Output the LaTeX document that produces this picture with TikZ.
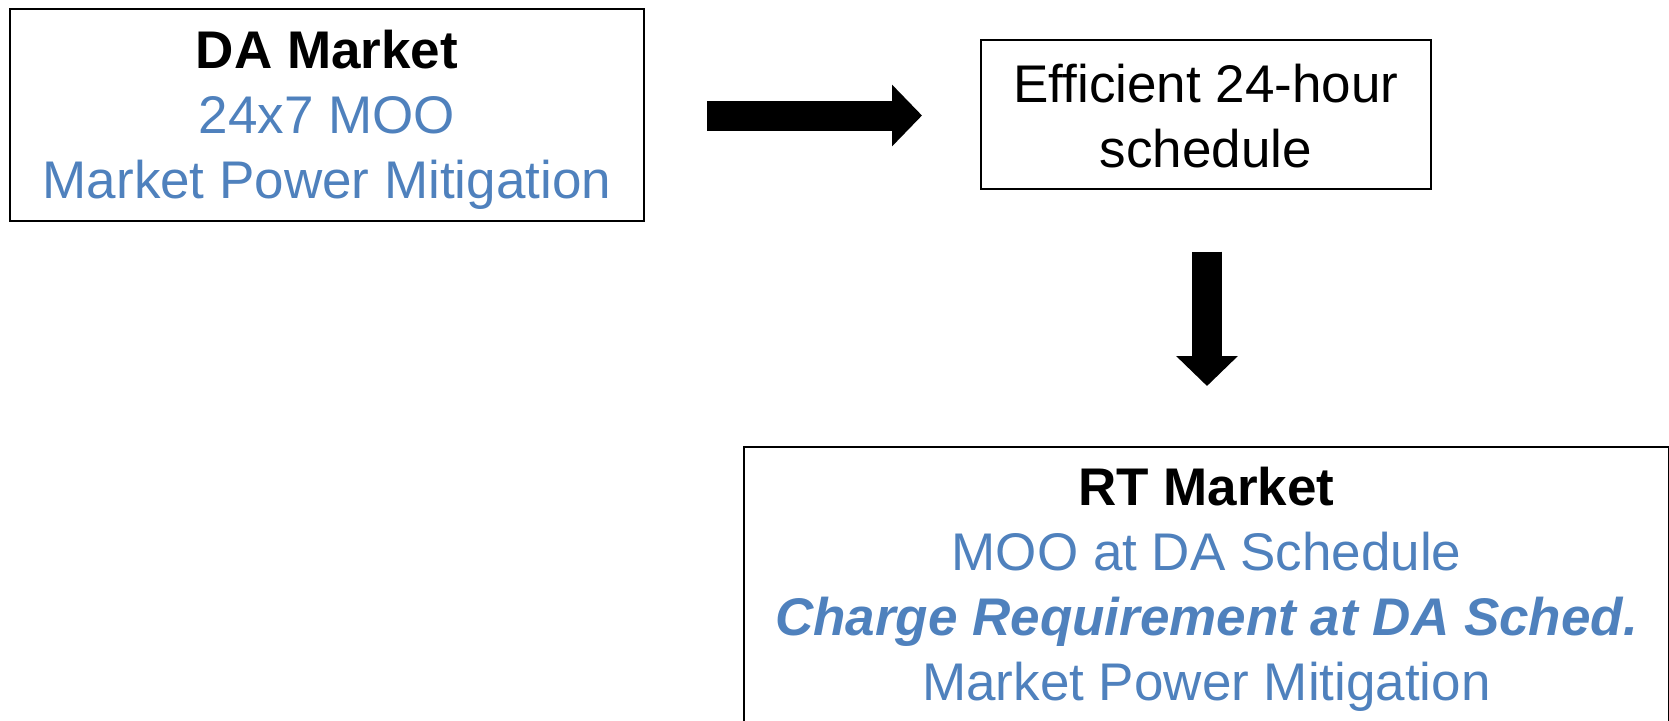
\documentclass[tikz,border=0pt]{standalone}
\usepackage{fontspec}
\setmainfont{Liberation Sans}
\usetikzlibrary{arrows.meta}
\definecolor{txtblue}{HTML}{4F81BD}
\tikzset{
  box/.style={draw=black, line width=1pt, inner sep=0pt},
  boxtext/.style={inner sep=0pt, align=center,
    font=\fontsize{26.5pt}{32.5pt}\selectfont},
  blockarrow/.style={line width=15pt, draw=black,
    -{Triangle[width=30pt,length=15pt]}},
}
\begin{document}
\begin{tikzpicture}[x=0.5pt,y=-0.5pt]
\useasboundingbox (0,0) rectangle (1669,720);
\clip (0,0) rectangle (1669,720);
\node[box, minimum width=317pt, minimum height=106pt] (da) at (327,115) {};
\node[boxtext] (datext) at ([yshift=-2.5pt]da.center)
  {\textbf{DA Market}\\ \textcolor{txtblue}{24x7 MOO}\\ \textcolor{txtblue}{Market Power Mitigation}};
\node[box, minimum width=225pt, minimum height=74.5pt] (eff) at (1206,114.5) {};
\node[boxtext] (efftext) at ([yshift=-1pt]eff.center)
  {Efficient 24-hour\\ schedule};
\node[box, minimum width=462.5pt, minimum height=138.5pt] (rt) at (1206.5,585.5) {};
\node[boxtext] (rttext) at ([yshift=-2pt]rt.center)
  {\textbf{RT Market}\\ \textcolor{txtblue}{MOO at DA Schedule}\\ \textcolor{txtblue}{\textbf{\textit{Charge Requirement at DA Sched.}}}\\ \textcolor{txtblue}{Market Power Mitigation}};
\coordinate (a1s) at (707,115.5);
\coordinate (a1e) at (922,115.5);
\coordinate (a2s) at (1207,251.5);
\coordinate (a2e) at (1207,386);
\draw[blockarrow] (a1s) -- (a1e);
\draw[blockarrow] (a2s) -- (a2e);
\end{tikzpicture}
\end{document}
